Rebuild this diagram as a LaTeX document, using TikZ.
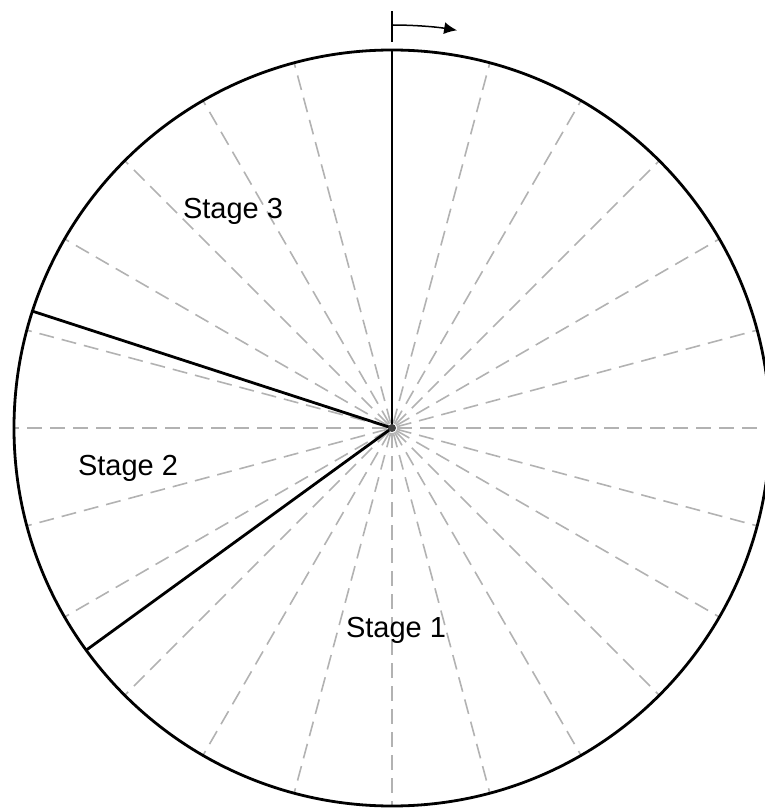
\documentclass[tikz,border=0pt]{standalone}
\usepackage{fontspec}
\setmainfont{Liberation Sans}
\usetikzlibrary{arrows.meta}

\begin{document}
\begin{tikzpicture}[x=1pt,y=1pt,>={Latex[length=13pt,width=12pt]},
  font=\fontsize{29}{34}\selectfont]

\useasboundingbox (-392,-380) rectangle (373,428);

\coordinate (c) at (0,0);

% --- Raggi tratteggiati ogni 15 gradi
\foreach \a in {0,15,...,345}{
  \draw[gray!60,line width=1.6pt,dash pattern=on 15pt off 8pt]
    (c) ++(\a:5) -- ++(\a:373);
}

% --- Cerchio
\draw[line width=2.8pt] (c) circle (378);

% --- Confini degli stadi
\draw[line width=2.8pt] (c) -- (90:378);
\draw[line width=2.8pt] (c) -- (162:378);
\draw[line width=2.8pt] (c) -- (216:378);

% --- Centro
\fill[black!75] (c) circle (4);

% --- Verso di rotazione
\draw[line width=1.5pt] (0,386) -- (0,417);
\draw[line width=1.5pt,->] (90:403) arc (90:80.7:403);

% --- Etichette
\node[anchor=base] (s3) at (-159,209) {Stage 3};
\node[anchor=base] (s2) at (-264,-47) {Stage 2};
\node[anchor=base] (s1) at (4,-209) {Stage 1};

\end{tikzpicture}
\end{document}
